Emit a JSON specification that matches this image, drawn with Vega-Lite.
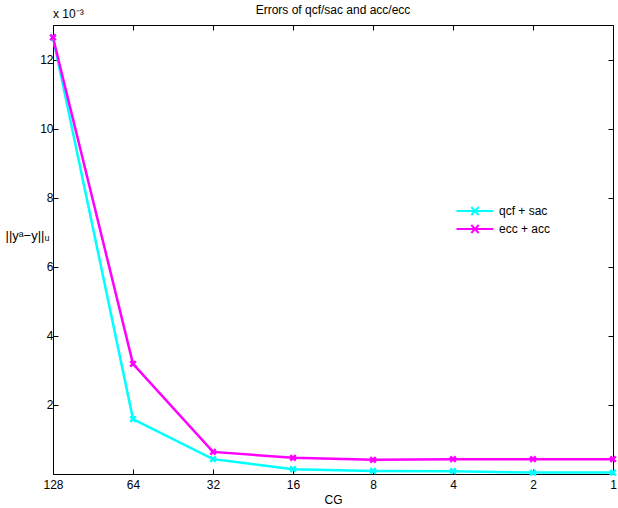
{
  "$schema": "https://vega.github.io/schema/vega-lite/v6.json",
  "width": 560,
  "height": 449,
  "autosize": {"type": "none"},
  "padding": {"left": 53, "top": 25, "right": 5, "bottom": 34},
  "background": "white",
  "title": {"text": "Errors of qcf/sac and acc/ecc", "fontSize": 12, "fontWeight": "normal", "font": "Liberation Sans", "offset": -9, "color": "black"},
  "config": {
    "view": {"stroke": null},
    "font": "Liberation Sans",
    "axis": {"labelFont": "Liberation Sans", "titleFont": "Liberation Sans", "labelFontSize": 12, "titleFontSize": 12, "titleFontWeight": "normal", "labelColor": "black", "titleColor": "black", "domainColor": "black", "tickColor": "black", "grid": false, "tickSize": -5, "domainWidth": 1}
  },
  "datasets": {
    "errors": [
      {"CG": "128", "method": "qcf + sac", "error": 0.01264},
      {"CG": "64", "method": "qcf + sac", "error": 0.00159},
      {"CG": "32", "method": "qcf + sac", "error": 0.00043},
      {"CG": "16", "method": "qcf + sac", "error": 0.00014},
      {"CG": "8", "method": "qcf + sac", "error": 0.00009},
      {"CG": "4", "method": "qcf + sac", "error": 0.00008},
      {"CG": "2", "method": "qcf + sac", "error": 0.00004},
      {"CG": "1", "method": "qcf + sac", "error": 0.00004},
      {"CG": "128", "method": "ecc + acc", "error": 0.01264},
      {"CG": "64", "method": "ecc + acc", "error": 0.00319},
      {"CG": "32", "method": "ecc + acc", "error": 0.00064},
      {"CG": "16", "method": "ecc + acc", "error": 0.00047},
      {"CG": "8", "method": "ecc + acc", "error": 0.00041},
      {"CG": "4", "method": "ecc + acc", "error": 0.00043},
      {"CG": "2", "method": "ecc + acc", "error": 0.00043},
      {"CG": "1", "method": "ecc + acc", "error": 0.00043}
    ],
    "note": [{"label": "x 10⁻³"}]
  },
  "resolve": {"axis": {"x": "independent", "y": "independent"}},
  "layer": [
    {
      "data": {"name": "errors"},
      "mark": {"type": "line", "strokeWidth": 2.5},
      "encoding": {
        "x": {"field": "CG", "type": "ordinal", "sort": ["128", "64", "32", "16", "8", "4", "2", "1"], "scale": {"type": "point", "padding": 0},
              "axis": {"title": "CG", "labelAngle": 0, "labelPadding": 10, "titlePadding": 4, "orient": "bottom"}},
        "y": {"field": "error", "type": "quantitative", "scale": {"domain": [0, 0.013], "nice": false, "zero": true},
              "axis": {"values": [0.002, 0.004, 0.006, 0.008, 0.01, 0.012], "labelExpr": "round(datum.value*1000)", "labelPadding": 5, "orient": "left",
                       "title": "||yᵃ−y||ᵤ", "titleFontSize": 13, "titleAngle": 0, "titleAlign": "left", "titleBaseline": "middle", "titleX": -48, "titleY": 210}},
        "color": {"field": "method", "type": "nominal", "scale": {"domain": ["qcf + sac", "ecc + acc"], "range": ["#00FFFF", "#FF00FF"]},
                  "legend": {"title": null, "orient": "none", "legendX": 416, "legendY": 180, "symbolType": "M-3.7,0L3.7,0M-0.74,-0.8L0.74,0.8M0.74,-0.8L-0.74,0.8", "symbolSize": 100, "symbolStrokeWidth": 2, "labelFontSize": 12, "labelFont": "Liberation Sans", "labelColor": "black", "rowPadding": 2, "labelOffset": 18}}
      }
    },
    {
      "data": {"name": "errors"},
      "mark": {"type": "point", "shape": "M-1,-1L1,1M1,-1L-1,1", "size": 30, "strokeWidth": 2.5, "filled": false, "opacity": 1},
      "encoding": {
        "x": {"field": "CG", "type": "ordinal", "sort": ["128", "64", "32", "16", "8", "4", "2", "1"], "scale": {"type": "point", "padding": 0},
              "axis": {"title": null, "labels": false, "orient": "top", "domain": true, "minExtent": 0, "maxExtent": 0, "labelPadding": 0}},
        "y": {"field": "error", "type": "quantitative",
              "axis": {"values": [0.002, 0.004, 0.006, 0.008, 0.01, 0.012], "title": null, "labels": false, "orient": "right", "minExtent": 0, "maxExtent": 0}},
        "color": {"field": "method", "type": "nominal"}
      }
    },
    {
      "data": {"name": "note"},
      "mark": {"type": "text", "align": "left", "baseline": "middle", "dy": -11, "fontSize": 12, "font": "Liberation Sans", "color": "black"},
      "encoding": {
        "text": {"field": "label"},
        "x": {"datum": "128", "type": "ordinal", "axis": null},
        "y": {"datum": 0.013, "type": "quantitative", "axis": null}
      }
    }
  ]
}
